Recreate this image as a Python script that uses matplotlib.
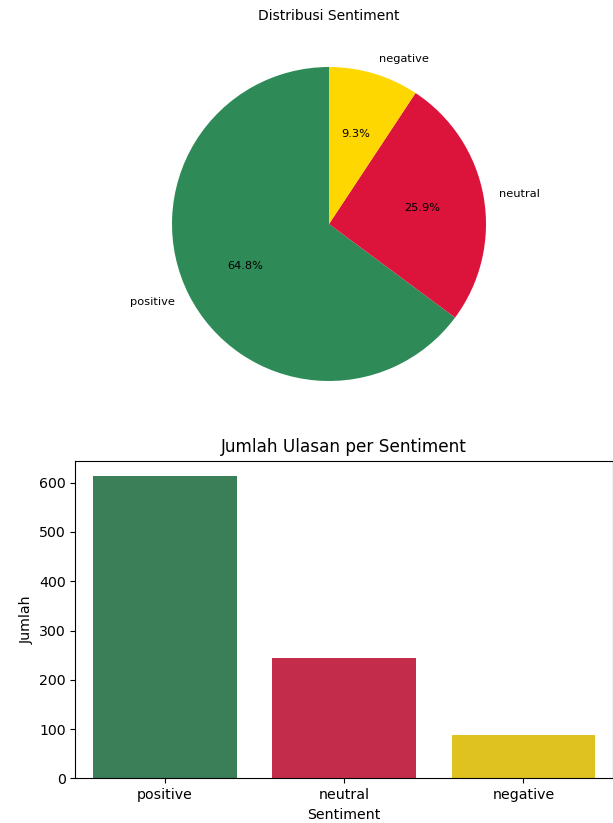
import numpy as np
import matplotlib
matplotlib.use("Agg")
import matplotlib.pyplot as plt
import seaborn as sns

# data
sentiments = ['positive', 'neutral', 'negative']
counts = [614, 245, 88]
colors = ['seagreen', 'crimson', 'gold']

W, H = 613, 823
fig = plt.figure(figsize=(W / 100, H / 100), dpi=100)

# pie: centre (329, 224), radius ~157 px
r = 157
side = 2 * 1.25 * r
cx, cy = 329, 224
ax1 = fig.add_axes([(cx - side / 2) / W, (H - cy - side / 2) / H, side / W, side / H])
ax1.pie(counts, labels=sentiments, colors=colors, autopct='%1.1f%%', startangle=90,
        textprops={'fontsize': 8.2})
fig.text(cx / W, 1 - 16 / H, 'Distribusi Sentiment', fontsize=10, ha='center', va='center')

# bar chart
ax2 = fig.add_axes([75.3 / W, (H - 778.3) / H, (613 - 75.3) / W, (778.3 - 460.7) / H])
sns.barplot(x=sentiments, y=counts, hue=sentiments, palette=colors, legend=False, ax=ax2)
ax2.set_title('Jumlah Ulasan per Sentiment', fontsize=12.2)
ax2.set_xlabel('Sentiment', fontsize=10.2)
ax2.set_ylabel('Jumlah', fontsize=10.2)
ax2.tick_params(labelsize=10.2)

fig.savefig('out.png', dpi=100)
